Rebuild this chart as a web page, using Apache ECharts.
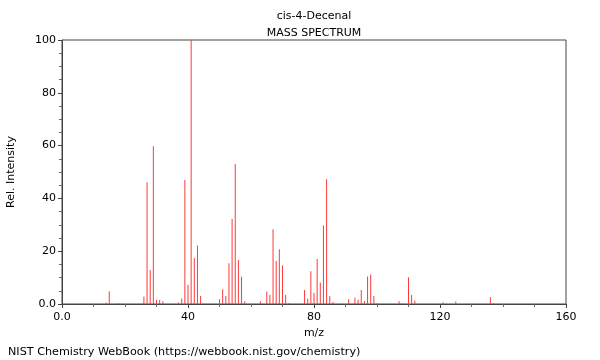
<!DOCTYPE html>
<html>
<head>
<meta charset="utf-8">
<script src="https://cdn.jsdelivr.net/npm/echarts@6/dist/echarts.min.js"></script>
<style>html,body{margin:0;padding:0;background:#fff}#c{width:600px;height:360px}</style>
</head>
<body>
<div id="c"></div>
<script>
var mz = [14, 15, 18, 26, 27, 28, 29, 30, 31, 32, 37, 38, 39, 40, 41, 42, 43, 44,
  50, 51, 52, 53, 54, 55, 56, 57, 58, 63, 65, 66, 67, 68, 69, 70, 71, 72,
  77, 78, 79, 80, 81, 82, 83, 84, 85, 86, 91, 93, 94, 95, 96, 97, 98, 99, 100,
  107, 108, 110, 111, 112, 121, 125, 136, 137];
var intensity = [0.6, 4.8, 0.3, 2.8, 46.1, 12.9, 59.8, 1.5, 1.5, 1.0, 0.6, 2.1, 47.0, 7.3, 100, 17.4, 22.2, 3.0,
  1.8, 5.6, 3.0, 15.4, 32.2, 53.0, 16.7, 10.3, 1.0, 1.0, 4.7, 3.4, 28.3, 16.3, 20.7, 14.7, 3.4, 0.3,
  5.3, 2.0, 12.4, 4.2, 17.0, 8.1, 29.7, 47.3, 3.0, 0.8, 1.8, 2.4, 1.6, 5.3, 1.1, 10.4, 11.2, 3.0, 0.3,
  1.0, 0.3, 10.1, 3.4, 1.3, 0.7, 0.9, 2.6, 0.2];
var xTicks = [0, 40, 80, 120, 160];
var yTicks = [0, 20, 40, 60, 80, 100];
var titleText = 'cis-4-Decenal';
var subtitleText = 'MASS SPECTRUM';
var footerText = 'NIST Chemistry WebBook (https://webbook.nist.gov/chemistry)';

var data = mz.map(function (m, i) { return [m, intensity[i]]; });
var font = 'DejaVu Sans';
var chart = echarts.init(document.getElementById('c'), null, {renderer: 'canvas'});
chart.setOption({
  animation: false,
  backgroundColor: '#fff',
  title: [
    {text: titleText, left: 309, top: 6, textAlign: 'center',
      textStyle: {fontFamily: font, fontSize: 11, fontWeight: 'normal', color: '#000'}},
    {text: subtitleText, left: 309, top: 23, textAlign: 'center',
      textStyle: {fontFamily: font, fontSize: 11, fontWeight: 'normal', color: '#000'}},
    {text: footerText, left: 3, top: 342,
      textStyle: {fontFamily: font, fontSize: 11.2, fontWeight: 'normal', color: '#000'}}
  ],
  grid: {left: 62, right: 34, top: 40, bottom: 56, containLabel: false, outerBoundsMode: 'none',
    show: true, borderColor: '#444', borderWidth: 1, backgroundColor: 'transparent'},
  xAxis: {
    type: 'value', min: 0, max: 160, interval: 40,
    name: 'm/z', nameLocation: 'middle', nameGap: 24,
    nameTextStyle: {fontFamily: font, fontSize: 11, color: '#000'},
    axisLine: {show: true, onZero: false, lineStyle: {color: '#444'}},
    axisTick: {show: true, length: 4, lineStyle: {color: '#444'}},
    minorTick: {show: true, splitNumber: 4, length: 3, lineStyle: {color: '#666'}},
    splitLine: {show: false},
    axisLabel: {fontFamily: font, fontSize: 11, color: '#000', margin: 8,
      formatter: function (v) { return xTicks.indexOf(v) === 0 ? '0.0' : String(v); }}
  },
  yAxis: {
    type: 'value', min: 0, max: 100, interval: 20,
    name: 'Rel. Intensity', nameLocation: 'middle', nameGap: 45, nameRotate: 90,
    nameTextStyle: {fontFamily: font, fontSize: 11, color: '#000'},
    axisLine: {show: true, lineStyle: {color: '#444'}},
    axisTick: {show: true, length: 4, lineStyle: {color: '#444'}},
    minorTick: {show: true, splitNumber: 4, length: 3, lineStyle: {color: '#666'}},
    splitLine: {show: false},
    axisLabel: {fontFamily: font, fontSize: 11, color: '#000', margin: 6,
      formatter: function (v) { return yTicks.indexOf(v) === 0 ? '0.0' : String(v); }}
  },
  series: [{
    type: 'bar', data: data, barWidth: 1, barGap: 0,
    itemStyle: {color: '#ff3a3a'}, silent: true
  }]
});
</script>
</body>
</html>
